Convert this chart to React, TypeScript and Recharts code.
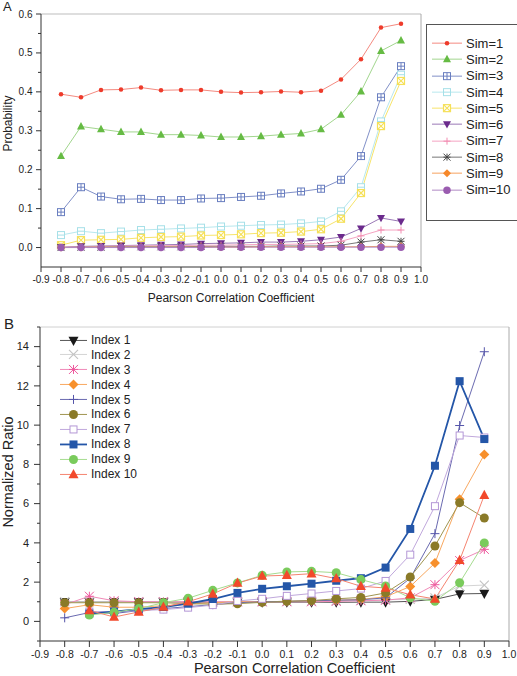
import { LineChart, Line, XAxis, YAxis, Legend, ReferenceLine } from 'recharts';

const FONT = '"Liberation Sans", Arial, Helvetica, sans-serif';

// x values (Pearson correlation coefficient)
const corr = [-0.8, -0.7, -0.6, -0.5, -0.4, -0.3, -0.2, -0.1, 0.0, 0.1, 0.2, 0.3, 0.4, 0.5, 0.6, 0.7, 0.8, 0.9];
const xTicks = [-0.9, -0.8, -0.7, -0.6, -0.5, -0.4, -0.3, -0.2, -0.1, 0.0, 0.1, 0.2, 0.3, 0.4, 0.5, 0.6, 0.7, 0.8, 0.9, 1.0];
const probTicks = [0, 0.05, 0.1, 0.15, 0.2, 0.25, 0.3, 0.35, 0.4, 0.45, 0.5, 0.55, 0.6];
const ratioTicks = [-1, 0, 1, 2, 3, 4, 5, 6, 7, 8, 9, 10, 11, 12, 13, 14, 15];

// panel A: probability
const sim1 = [0.394, 0.386, 0.405, 0.406, 0.411, 0.404, 0.405, 0.405, 0.4, 0.398, 0.399, 0.401, 0.399, 0.403, 0.432, 0.484, 0.565, 0.575];
const sim2 = [0.235, 0.311, 0.304, 0.297, 0.297, 0.29, 0.29, 0.288, 0.284, 0.284, 0.286, 0.29, 0.293, 0.304, 0.341, 0.401, 0.505, 0.532];
const sim3 = [0.091, 0.155, 0.131, 0.124, 0.125, 0.122, 0.122, 0.126, 0.127, 0.13, 0.133, 0.139, 0.144, 0.151, 0.174, 0.235, 0.386, 0.466];
const sim4 = [0.032, 0.042, 0.037, 0.041, 0.045, 0.047, 0.049, 0.051, 0.054, 0.056, 0.058, 0.059, 0.062, 0.067, 0.093, 0.155, 0.324, 0.444];
const sim5 = [0.006, 0.019, 0.02, 0.021, 0.025, 0.027, 0.028, 0.031, 0.032, 0.034, 0.037, 0.038, 0.041, 0.047, 0.074, 0.14, 0.312, 0.428];
const sim6 = [0.001, 0.003, 0.004, 0.005, 0.006, 0.007, 0.008, 0.01, 0.011, 0.012, 0.014, 0.014, 0.016, 0.02, 0.027, 0.049, 0.076, 0.067];
const sim7 = [0.001, 0.002, 0.003, 0.004, 0.004, 0.005, 0.005, 0.006, 0.006, 0.007, 0.008, 0.008, 0.009, 0.01, 0.016, 0.03, 0.045, 0.045];
const sim8 = [0.0, 0.001, 0.001, 0.002, 0.002, 0.002, 0.002, 0.003, 0.003, 0.003, 0.003, 0.004, 0.004, 0.004, 0.006, 0.014, 0.02, 0.016];
const sim9 = [0.0, 0.0, 0.001, 0.001, 0.001, 0.001, 0.001, 0.001, 0.001, 0.001, 0.002, 0.002, 0.002, 0.002, 0.002, 0.002, 0.003, 0.003];
const sim10 = [0.0, 0.0, 0.0, 0.0, 0.0, 0.0, 0.0, 0.0, 0.001, 0.001, 0.001, 0.001, 0.001, 0.001, 0.001, 0.001, 0.001, 0.001];

// panel B: normalized ratio
const idx1 = [1.0, 1.0, 1.0, 1.0, 1.0, 0.98, 0.97, 0.97, 0.98, 0.98, 0.98, 0.97, 0.98, 0.98, 1.02, 1.12, 1.4, 1.42];
const idx2 = [1.0, 1.0, 1.0, 1.0, 1.0, 1.0, 1.0, 1.0, 1.0, 1.02, 1.03, 1.05, 1.07, 1.1, 1.12, 1.2, 1.8, 1.85];
const idx3 = [0.85, 1.28, 1.05, 1.0, 1.0, 1.0, 1.0, 1.0, 1.0, 1.0, 1.0, 1.02, 1.05, 1.08, 1.2, 1.87, 3.1, 3.67];
const idx4 = [0.65, 0.85, 0.72, 0.72, 0.8, 0.88, 0.95, 1.0, 1.0, 1.02, 1.05, 1.08, 1.12, 1.25, 1.78, 2.97, 6.22, 8.5];
const idx5 = [0.18, 0.45, 0.4, 0.55, 0.65, 0.75, 0.85, 0.95, 1.0, 1.02, 1.05, 1.08, 1.1, 1.2, 2.2, 4.47, 9.98, 13.74];
const idx6 = [0.95, 0.95, 0.95, 0.95, 0.95, 0.9, 0.88, 0.9, 0.97, 1.02, 1.06, 1.15, 1.22, 1.45, 2.26, 3.84, 6.05, 5.27];
const idx7 = [null, 0.5, 0.5, 0.55, 0.6, 0.7, 0.83, 1.04, 1.15, 1.3, 1.42, 1.55, 1.67, 2.06, 3.4, 5.87, 9.47, 9.37];
const idx8 = [null, 0.4, 0.5, 0.62, 0.73, 0.9, 1.14, 1.45, 1.66, 1.79, 1.92, 2.07, 2.2, 2.74, 4.71, 7.93, 12.24, 9.29];
const idx9 = [null, 0.32, 0.46, 0.65, 0.95, 1.18, 1.58, 1.96, 2.35, 2.52, 2.55, 2.48, 2.13, 1.8, 1.2, 1.02, 1.97, 4.0];
const idx10 = [null, 0.56, 0.22, 0.48, 0.73, 1.0, 1.4, 1.95, 2.31, 2.35, 2.43, 2.18, 1.79, 1.7, 1.36, 1.14, 3.11, 6.43];

type Shape =
  | 'circle' | 'triangle' | 'triangleDown' | 'diamond' | 'square' | 'squareOpen'
  | 'squarePlus' | 'squareMinus' | 'squareX' | 'plus' | 'cross' | 'asterisk';

interface Series {
  key: string;
  name: string;
  values: (number | null)[];
  shape: Shape;
  color: string;
  line: string;
  size: number;
  width?: number;
}

const simSeries: Series[] = [
  { key: 'sim1', name: 'Sim=1', values: sim1, shape: 'circle', color: '#ee3b2b', line: '#f48a80', size: 4.5 },
  { key: 'sim2', name: 'Sim=2', values: sim2, shape: 'triangle', color: '#66bb44', line: '#a2d68e', size: 8 },
  { key: 'sim3', name: 'Sim=3', values: sim3, shape: 'squarePlus', color: '#6a7fc0', line: '#8190c8', size: 7 },
  { key: 'sim4', name: 'Sim=4', values: sim4, shape: 'squareMinus', color: '#a6e0e8', line: '#b8e8ee', size: 7 },
  { key: 'sim5', name: 'Sim=5', values: sim5, shape: 'squareX', color: '#f5e05a', line: '#f7e46a', size: 7 },
  { key: 'sim6', name: 'Sim=6', values: sim6, shape: 'triangleDown', color: '#6b2a8c', line: '#9a78b6', size: 8 },
  { key: 'sim7', name: 'Sim=7', values: sim7, shape: 'plus', color: '#f28bb0', line: '#f5a4c2', size: 7 },
  { key: 'sim8', name: 'Sim=8', values: sim8, shape: 'asterisk', color: '#444444', line: '#777777', size: 7 },
  { key: 'sim9', name: 'Sim=9', values: sim9, shape: 'diamond', color: '#f6882a', line: '#f6a260', size: 8 },
  { key: 'sim10', name: 'Sim=10', values: sim10, shape: 'circle', color: '#9a5cb0', line: '#b08ac4', size: 7.5 },
];

const idxSeries: Series[] = [
  { key: 'idx1', name: 'Index 1', values: idx1, shape: 'triangleDown', color: '#1a1a1a', line: '#555555', size: 10 },
  { key: 'idx2', name: 'Index 2', values: idx2, shape: 'cross', color: '#c4c4c4', line: '#d4d4d4', size: 9 },
  { key: 'idx3', name: 'Index 3', values: idx3, shape: 'asterisk', color: '#ee5a9e', line: '#f08ab8', size: 9 },
  { key: 'idx4', name: 'Index 4', values: idx4, shape: 'diamond', color: '#f7902c', line: '#f8a860', size: 10 },
  { key: 'idx5', name: 'Index 5', values: idx5, shape: 'plus', color: '#5555aa', line: '#6a6ab0', size: 9 },
  { key: 'idx6', name: 'Index 6', values: idx6, shape: 'circle', color: '#8a7a28', line: '#a09550', size: 9 },
  { key: 'idx7', name: 'Index 7', values: idx7, shape: 'squareOpen', color: '#b497d6', line: '#c0a8dc', size: 8 },
  { key: 'idx8', name: 'Index 8', values: idx8, shape: 'square', color: '#2456a8', line: '#2456a8', size: 8, width: 1.8 },
  { key: 'idx9', name: 'Index 9', values: idx9, shape: 'circle', color: '#7acb5c', line: '#a6dc90', size: 9 },
  { key: 'idx10', name: 'Index 10', values: idx10, shape: 'triangle', color: '#f2492b', line: '#f58470', size: 10 },
];

function buildRows(series: Series[]) {
  return corr.map((r, i) => {
    const row: Record<string, number | null> = { r };
    series.forEach((s) => {
      row[s.key] = s.values[i];
    });
    return row;
  });
}

const dataA = buildRows(simSeries);
const dataB = buildRows(idxSeries);

function Marker({ shape, x, y, size, color }: { shape: Shape; x: number; y: number; size: number; color: string }) {
  const h = size / 2;
  switch (shape) {
    case 'circle':
      return <circle cx={x} cy={y} r={h} fill={color} />;
    case 'triangle':
      return <polygon points={`${x},${y - h * 1.1} ${x + h},${y + h * 0.75} ${x - h},${y + h * 0.75}`} fill={color} />;
    case 'triangleDown':
      return <polygon points={`${x - h},${y - h * 0.75} ${x + h},${y - h * 0.75} ${x},${y + h * 1.1}`} fill={color} />;
    case 'diamond':
      return <polygon points={`${x},${y - h} ${x + h},${y} ${x},${y + h} ${x - h},${y}`} fill={color} />;
    case 'square':
      return <rect x={x - h} y={y - h} width={size} height={size} fill={color} />;
    case 'squareOpen':
      return <rect x={x - h + 0.5} y={y - h + 0.5} width={size - 1} height={size - 1} fill="#fff" stroke={color} strokeWidth={1} />;
    case 'squarePlus':
      return (
        <g fill="none" stroke={color} strokeWidth={1}>
          <rect x={x - h} y={y - h} width={size} height={size} fill="#fff" />
          <path d={`M${x - h} ${y}H${x + h}M${x} ${y - h}V${y + h}`} />
        </g>
      );
    case 'squareMinus':
      return (
        <g fill="none" stroke={color} strokeWidth={1}>
          <rect x={x - h} y={y - h} width={size} height={size} fill="#fff" />
          <path d={`M${x - h} ${y}H${x + h}`} />
        </g>
      );
    case 'squareX':
      return (
        <g fill="none" stroke={color} strokeWidth={1.2}>
          <rect x={x - h} y={y - h} width={size} height={size} fill="#fff" />
          <path d={`M${x - h} ${y - h}L${x + h} ${y + h}M${x + h} ${y - h}L${x - h} ${y + h}`} />
        </g>
      );
    case 'plus':
      return <path d={`M${x - h} ${y}H${x + h}M${x} ${y - h}V${y + h}`} stroke={color} strokeWidth={1} fill="none" />;
    case 'cross':
      return <path d={`M${x - h} ${y - h}L${x + h} ${y + h}M${x + h} ${y - h}L${x - h} ${y + h}`} stroke={color} strokeWidth={1.2} fill="none" />;
    case 'asterisk':
      return (
        <path
          d={`M${x - h} ${y - h}L${x + h} ${y + h}M${x + h} ${y - h}L${x - h} ${y + h}M${x} ${y - h}V${y + h}M${x - h} ${y}H${x + h}`}
          stroke={color}
          strokeWidth={1}
          fill="none"
        />
      );
    default:
      return null;
  }
}

function dotFor(s: Series) {
  // eslint-disable-next-line @typescript-eslint/no-explicit-any
  return (p: any) => {
    const k = `${s.key}-${p.index}`;
    if (p.cx == null || p.cy == null || p.value == null) return <g key={k} />;
    return (
      <g key={k}>
        <Marker shape={s.shape} x={p.cx} y={p.cy} size={s.size} color={s.color} />
      </g>
    );
  };
}

const isMajor = (v: number, step: number) => Math.abs(v / step - Math.round(v / step)) < 1e-6;

// eslint-disable-next-line @typescript-eslint/no-explicit-any
function XTick(props: any) {
  const { x, y, payload, len, fontSize } = props;
  return (
    <g>
      <line x1={x} x2={x} y1={y} y2={y + len} stroke="#333" strokeWidth={1} />
      <text x={x} y={y + len + 3} dy="0.75em" textAnchor="middle" fontSize={fontSize} fill="#222" fontFamily={FONT}>
        {Number(payload.value).toFixed(1)}
      </text>
    </g>
  );
}

// eslint-disable-next-line @typescript-eslint/no-explicit-any
function YTickA(props: any) {
  const { x, y, payload } = props;
  const v = Number(payload.value);
  const major = isMajor(v, 0.1);
  return (
    <g>
      <line x1={x} x2={x - (major ? 5 : 3)} y1={y} y2={y} stroke="#333" strokeWidth={1} />
      {major && (
        <text x={x - 8.5} y={y} dy="0.35em" textAnchor="end" fontSize={10} fill="#222" fontFamily={FONT}>
          {v.toFixed(1)}
        </text>
      )}
    </g>
  );
}

// eslint-disable-next-line @typescript-eslint/no-explicit-any
function YTickB(props: any) {
  const { x, y, payload } = props;
  const v = Number(payload.value);
  const major = v % 2 === 0 && v >= 0 && v <= 14;
  return (
    <g>
      <line x1={x} x2={x - (major ? 6 : 3)} y1={y} y2={y} stroke="#333" strokeWidth={1} />
      {major && (
        <text x={x - 11} y={y} dy="0.35em" textAnchor="end" fontSize={11} fill="#222" fontFamily={FONT}>
          {v}
        </text>
      )}
    </g>
  );
}

function LegendRows({ series, lineLen, rowH, fontSize, names }: { series: Series[]; lineLen: number; rowH: number; fontSize: number; names: string[] }) {
  // keep the series order, not the legend's alphabetical one
  const shown = series.filter((s) => names.includes(s.name));
  return (
    <>
      {shown.map((s) => (
        <div key={s.key} style={{ display: 'flex', alignItems: 'center', height: rowH }}>
          <svg width={lineLen} height={rowH} style={{ display: 'block', flex: 'none' }}>
            <line x1={0} x2={lineLen} y1={rowH / 2} y2={rowH / 2} stroke={s.line} strokeWidth={s.width ?? 1} />
            <Marker shape={s.shape} x={lineLen / 2} y={rowH / 2} size={s.size} color={s.color} />
          </svg>
          <span style={{ marginLeft: 4, fontSize, color: '#222', whiteSpace: 'nowrap', lineHeight: 1 }}>{s.name}</span>
        </div>
      ))}
    </>
  );
}

// eslint-disable-next-line @typescript-eslint/no-explicit-any
const payloadNames = (p: any) => (p.payload ?? []).map((e: any) => String(e.value));

export default function App() {
  return (
    <div style={{ position: 'absolute', left: 0, top: 0, width: 517, height: 676, overflow: 'hidden', background: '#fff', fontFamily: FONT }}>
      <div style={{ position: 'absolute', left: 0, top: 0 }}>
        <LineChart width={517} height={310} data={dataA} margin={{ top: 14, right: 96, left: 0, bottom: 0 }}>
          <XAxis
            dataKey="r"
            type="number"
            domain={[-0.9, 1.0]}
            ticks={xTicks}
            interval={0}
            height={43}
            tickSize={0}
            tickMargin={0}
            stroke="#333"
            tick={(p) => <XTick {...p} len={5} fontSize={10} />}
            label={{
              // eslint-disable-next-line @typescript-eslint/no-explicit-any
              content: (p: any) => (
                <text x={p.viewBox.x + p.viewBox.width / 2} y={p.viewBox.y + 35} textAnchor="middle" fontSize={12} fill="#222" fontFamily={FONT}>
                  Pearson Correlation Coefficient
                </text>
              ),
            }}
          />
          <YAxis
            type="number"
            domain={[-0.05, 0.6]}
            allowDataOverflow
            ticks={probTicks}
            interval={0}
            width={41}
            tickSize={0}
            tickMargin={0}
            stroke="#333"
            tick={(p) => <YTickA {...p} />}
            label={{
              // eslint-disable-next-line @typescript-eslint/no-explicit-any
              content: (p: any) => {
                const cx = p.viewBox.x + 8;
                const cy = p.viewBox.y + p.viewBox.height / 2 - 17;
                return (
                  <text x={cx} y={cy} transform={`rotate(-90, ${cx}, ${cy})`} textAnchor="middle" dominantBaseline="central" fontSize={12} fill="#222" fontFamily={FONT}>
                    Probability
                  </text>
                );
              },
            }}
          />
          <ReferenceLine y={0.6} stroke="#bdbdbd" strokeWidth={1} />
          <ReferenceLine x={1.0} stroke="#aaaaaa" strokeWidth={1} />
          {simSeries.map((s) => (
            <Line
              key={s.key}
              dataKey={s.key}
              name={s.name}
              type="linear"
              stroke={s.line}
              strokeWidth={s.width ?? 1}
              dot={dotFor(s)}
              activeDot={false}
              isAnimationActive={false}
            />
          ))}
          <Legend
            layout="horizontal"
            verticalAlign="middle"
            align="center"
            wrapperStyle={{ left: 426, top: 24, width: 100, height: 197 }}
            content={(p) => (
              <div style={{ width: 100, height: 197, boxSizing: 'border-box', border: '1px solid #555', padding: '10px 0 0 5px', background: '#fff' }}>
                <LegendRows series={simSeries} names={payloadNames(p)} lineLen={30} rowH={16.3} fontSize={13} />
              </div>
            )}
          />
        </LineChart>
      </div>

      <div style={{ position: 'absolute', left: 0, top: 310 }}>
        <LineChart width={517} height={366} data={dataB} margin={{ top: 17, right: 8, left: 0, bottom: 0 }}>
          <XAxis
            dataKey="r"
            type="number"
            domain={[-0.9, 1.0]}
            ticks={xTicks}
            interval={0}
            height={35}
            tickSize={0}
            tickMargin={0}
            stroke="#333"
            tick={(p) => <XTick {...p} len={6} fontSize={10.5} />}
            label={{
              // eslint-disable-next-line @typescript-eslint/no-explicit-any
              content: (p: any) => (
                <text x={p.viewBox.x + p.viewBox.width / 2 + 20} y={p.viewBox.y + 32} textAnchor="middle" fontSize={14.5} fill="#222" fontFamily={FONT}>
                  Pearson Correlation Coefficient
                </text>
              ),
            }}
          />
          <YAxis
            type="number"
            domain={[-1, 15]}
            allowDataOverflow
            ticks={ratioTicks}
            interval={0}
            width={40}
            tickSize={0}
            tickMargin={0}
            stroke="#333"
            tick={(p) => <YTickB {...p} />}
            label={{
              // eslint-disable-next-line @typescript-eslint/no-explicit-any
              content: (p: any) => {
                const cx = p.viewBox.x + 8;
                const cy = p.viewBox.y + p.viewBox.height / 2 - 12;
                return (
                  <text x={cx} y={cy} transform={`rotate(-90, ${cx}, ${cy})`} textAnchor="middle" dominantBaseline="central" fontSize={14.5} fill="#222" fontFamily={FONT}>
                    Normalized Ratio
                  </text>
                );
              },
            }}
          />
          <ReferenceLine y={15} stroke="#d0d0d0" strokeWidth={1} />
          <ReferenceLine x={1.0} stroke="#aaaaaa" strokeWidth={1} />
          {idxSeries.map((s) => (
            <Line
              key={s.key}
              dataKey={s.key}
              name={s.name}
              type="linear"
              stroke={s.line}
              strokeWidth={s.width ?? 1}
              dot={dotFor(s)}
              activeDot={false}
              isAnimationActive={false}
            />
          ))}
          <Legend
            layout="horizontal"
            verticalAlign="middle"
            align="center"
            wrapperStyle={{ left: 60, top: 22.5, width: 120, height: 150 }}
            content={(p) => (
              <div>
                <LegendRows series={idxSeries} names={payloadNames(p)} lineLen={27} rowH={14.9} fontSize={12} />
              </div>
            )}
          />
        </LineChart>
      </div>

      <div style={{ position: 'absolute', left: 3, top: 0, fontSize: 13, lineHeight: 1, color: '#222' }}>A</div>
      <div style={{ position: 'absolute', left: 4, top: 316, fontSize: 15, lineHeight: 1, color: '#222' }}>B</div>
    </div>
  );
}
